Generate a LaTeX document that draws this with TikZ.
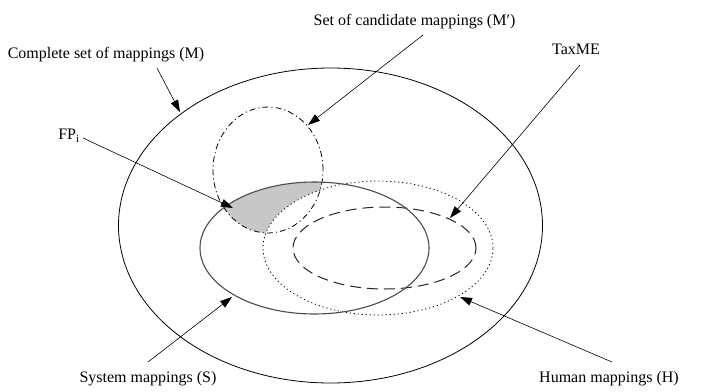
\documentclass[tikz,border=0pt]{standalone}
\usepackage{fontspec}
\setmainfont{Liberation Serif}
\usetikzlibrary{arrows.meta}
\tikzset{
  lbl/.style={font=\fontsize{16}{18}\selectfont, inner sep=0pt},
  ptr/.style={draw=black, line width=0.6pt, -{Triangle[length=12pt,width=8pt]}},
  setM/.style={draw=black, line width=0.8pt},
  setS/.style={draw=black!70, line width=1.1pt},
  setMp/.style={draw=black, line width=0.8pt, dash pattern=on 6pt off 3pt on 1.2pt off 3pt},
  setT/.style={draw=black!85, line width=1pt, dash pattern=on 11pt off 6pt},
  setH/.style={draw=black, line width=0.8pt, dash pattern=on 1.2pt off 2.8pt},
}
\begin{document}
\begin{tikzpicture}[x=1pt,y=-1pt]
\useasboundingbox (0,0) rectangle (704,391);
% shaded false positives region
\begin{scope}
  \clip (314.5,248) ellipse [x radius=114.5pt, y radius=66pt];
  \clip (268,170) ellipse [x radius=55pt, y radius=63pt];
  \fill[black!22] (150,100) rectangle (450,300);
\end{scope}
\fill[white] (378,248) ellipse [x radius=115pt, y radius=67pt];
% sets
\draw[setM] (330.5,225.5) ellipse [x radius=212pt, y radius=157.5pt];
\draw[setMp] (268,170) ellipse [x radius=55pt, y radius=63pt];
\draw[setH] (378,248) ellipse [x radius=115pt, y radius=67pt];
\draw[setT] (384.5,248) ellipse [x radius=91.5pt, y radius=41pt];
\draw[setS] (314.5,248) ellipse [x radius=114.5pt, y radius=66pt];
% labels
\node[lbl] (lM) at (106,55) {Complete set of mappings (M)};
\node[lbl] (lMp) at (414.5,22) {Set of candidate mappings (M′)};
\node[lbl] (lT) at (576,49) {TaxME};
\node[lbl] (lFP) at (69,136) {FP\textsubscript{i}};
\node[lbl] (lS) at (148,379) {System mappings (S)};
\node[lbl] (lH) at (609,379) {Human mappings (H)};
% connector endpoints
\coordinate (aM) at (157,68);   \coordinate (bM) at (180,112);
\coordinate (aMp) at (423,35);  \coordinate (bMp) at (308,125);
\coordinate (aT) at (580,65);   \coordinate (bT) at (450,218);
\coordinate (aFP) at (83,138);  \coordinate (bFP) at (233,208);
\coordinate (aS) at (148,362);  \coordinate (bS) at (232,297);
\coordinate (aH) at (612,362);  \coordinate (bH) at (460,297);
\draw[ptr] (aM) -- (bM);
\draw[ptr] (aMp) -- (bMp);
\draw[ptr] (aT) -- (bT);
\draw[ptr] (aFP) -- (bFP);
\draw[ptr] (aS) -- (bS);
\draw[ptr] (aH) -- (bH);
\end{tikzpicture}
\end{document}
